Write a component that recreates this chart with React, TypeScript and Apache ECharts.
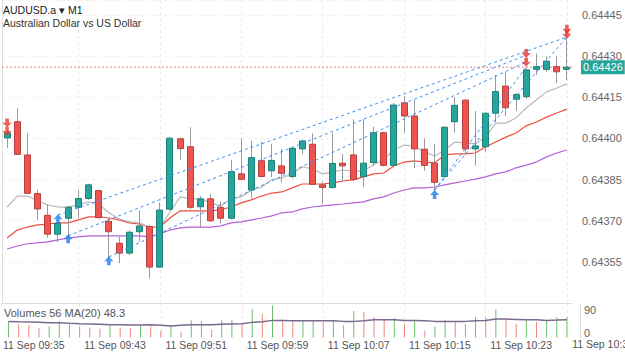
import { useEffect, useRef } from 'react';
import * as echarts from 'echarts';

const times = [
  '11 Sep 09:33', '11 Sep 09:34', '11 Sep 09:35', '11 Sep 09:36', '11 Sep 09:37', '11 Sep 09:38', '11 Sep 09:39', '11 Sep 09:40',
  '11 Sep 09:41', '11 Sep 09:42', '11 Sep 09:43', '11 Sep 09:44', '11 Sep 09:45', '11 Sep 09:46', '11 Sep 09:47', '11 Sep 09:48',
  '11 Sep 09:49', '11 Sep 09:50', '11 Sep 09:51', '11 Sep 09:52', '11 Sep 09:53', '11 Sep 09:54', '11 Sep 09:55', '11 Sep 09:56',
  '11 Sep 09:57', '11 Sep 09:58', '11 Sep 09:59', '11 Sep 10:00', '11 Sep 10:01', '11 Sep 10:02', '11 Sep 10:03', '11 Sep 10:04',
  '11 Sep 10:05', '11 Sep 10:06', '11 Sep 10:07', '11 Sep 10:08', '11 Sep 10:09', '11 Sep 10:10', '11 Sep 10:11', '11 Sep 10:12',
  '11 Sep 10:13', '11 Sep 10:14', '11 Sep 10:15', '11 Sep 10:16', '11 Sep 10:17', '11 Sep 10:18', '11 Sep 10:19', '11 Sep 10:20',
  '11 Sep 10:21', '11 Sep 10:22', '11 Sep 10:23', '11 Sep 10:24', '11 Sep 10:25', '11 Sep 10:26', '11 Sep 10:27', '11 Sep 10:28',
];
const nextTimeLabel = '11 Sep 10:31';

const opens = [
  0.644002, 0.644061, 0.643940, 0.643799, 0.643720, 0.643651, 0.643709, 0.643749, 0.643781, 0.643810,
  0.643698, 0.643618, 0.643582, 0.643660, 0.643679, 0.643531, 0.643742, 0.643999, 0.643970, 0.643751,
  0.643780, 0.643749, 0.643709, 0.643871, 0.643812, 0.643919, 0.643882, 0.643900, 0.643861, 0.643962,
  0.643979, 0.643831, 0.643821, 0.643910, 0.643940, 0.643861, 0.643912, 0.644021, 0.643902, 0.644130,
  0.644082, 0.643961, 0.643910, 0.643861, 0.644061, 0.644140, 0.643962, 0.643970, 0.644092, 0.644191,
  0.644143, 0.644152, 0.644252, 0.644252, 0.644262, 0.644252,
];
const closes = [
  0.644020, 0.643942, 0.643800, 0.643743, 0.643651, 0.643690, 0.643749, 0.643781, 0.643831, 0.643711,
  0.643660, 0.643582, 0.643658, 0.643681, 0.643531, 0.643739, 0.644001, 0.643963, 0.643749, 0.643780,
  0.643700, 0.643709, 0.643879, 0.643851, 0.643930, 0.643861, 0.643920, 0.643873, 0.643964, 0.643991,
  0.643833, 0.643821, 0.643909, 0.643900, 0.643851, 0.643910, 0.644021, 0.643902, 0.644122, 0.644082,
  0.643962, 0.643902, 0.643840, 0.644041, 0.644121, 0.643962, 0.643973, 0.644092, 0.644171, 0.644112,
  0.644160, 0.644250, 0.644262, 0.644282, 0.644243, 0.644260,
];
const lows = [
  0.643965, 0.643940, 0.643798, 0.643703, 0.643638, 0.643622, 0.643642, 0.643709, 0.643776, 0.643709,
  0.643557, 0.643545, 0.643575, 0.643624, 0.643490, 0.643528, 0.643738, 0.643922, 0.643742, 0.643673,
  0.643695, 0.643690, 0.643705, 0.643848, 0.643782, 0.643858, 0.643859, 0.643839, 0.643855, 0.643943,
  0.643830, 0.643761, 0.643818, 0.643843, 0.643846, 0.643822, 0.643900, 0.643898, 0.643900, 0.644021,
  0.643891, 0.643882, 0.643806, 0.643857, 0.644021, 0.643943, 0.643901, 0.643952, 0.644059, 0.644082,
  0.644101, 0.644145, 0.644231, 0.644243, 0.644203, 0.644213,
];
const highs = [
  0.644031, 0.644110, 0.644019, 0.643812, 0.643758, 0.643695, 0.643755, 0.643812, 0.643835, 0.643812,
  0.643711, 0.643642, 0.643665, 0.643739, 0.643683, 0.643766, 0.644005, 0.644003, 0.644041, 0.643790,
  0.643798, 0.643770, 0.643922, 0.644001, 0.643992, 0.643988, 0.643980, 0.643961, 0.643970, 0.643995,
  0.644019, 0.643843, 0.644019, 0.643943, 0.644070, 0.644070, 0.644043, 0.644025, 0.644130, 0.644155,
  0.644140, 0.644001, 0.643979, 0.644045, 0.644150, 0.644142, 0.644100, 0.644095, 0.644231, 0.644243,
  0.644165, 0.644255, 0.644310, 0.644301, 0.644301, 0.644383,
];

const maFast = [
  0.643750, 0.643790, 0.643790, 0.643772, 0.643758, 0.643750, 0.643750, 0.643758, 0.643769, 0.643761,
  0.643729, 0.643707, 0.643696, 0.643692, 0.643677, 0.643674, 0.643732, 0.643787, 0.643780, 0.643780,
  0.643765, 0.643754, 0.643780, 0.643787, 0.643812, 0.643823, 0.643849, 0.643856, 0.643871, 0.643896,
  0.643889, 0.643871, 0.643878, 0.643885, 0.643882, 0.643882, 0.643903, 0.643925, 0.643958, 0.643976,
  0.643973, 0.643951, 0.643936, 0.643958, 0.643987, 0.643984, 0.643980, 0.644005, 0.644056, 0.644056,
  0.644075, 0.644111, 0.644140, 0.644170, 0.644184, 0.644199,
];
const maMid = [
  0.643637, 0.643666, 0.643677, 0.643685, 0.643688, 0.643692, 0.643692, 0.643703, 0.643714, 0.643714,
  0.643710, 0.643703, 0.643692, 0.643688, 0.643677, 0.643677, 0.643710, 0.643736, 0.643736, 0.643736,
  0.643736, 0.643740, 0.643750, 0.643765, 0.643776, 0.643790, 0.643801, 0.643805, 0.643820, 0.643834,
  0.643834, 0.643834, 0.643838, 0.643845, 0.643849, 0.643860, 0.643871, 0.643874, 0.643900, 0.643914,
  0.643918, 0.643914, 0.643911, 0.643940, 0.643944, 0.643944, 0.643947, 0.643969, 0.643987, 0.644005,
  0.644020, 0.644046, 0.644060, 0.644078, 0.644093, 0.644107,
];
const maSlow = [
  0.643597, 0.643608, 0.643616, 0.643619, 0.643623, 0.643630, 0.643637, 0.643641, 0.643645, 0.643645,
  0.643645, 0.643645, 0.643645, 0.643645, 0.643641, 0.643652, 0.643666, 0.643674, 0.643677, 0.643677,
  0.643677, 0.643681, 0.643692, 0.643696, 0.643703, 0.643710, 0.643718, 0.643729, 0.643732, 0.643743,
  0.643750, 0.643754, 0.643758, 0.643761, 0.643765, 0.643769, 0.643780, 0.643787, 0.643801, 0.643812,
  0.643820, 0.643820, 0.643823, 0.643831, 0.643838, 0.643845, 0.643852, 0.643860, 0.643871, 0.643878,
  0.643893, 0.643903, 0.643914, 0.643933, 0.643947, 0.643958,
];

const volumes = [
  44, 36, 34, 26, 30, 44, 36, 30, 27, 24,
  32, 27, 26, 33, 30, 18, 33, 15, 47, 44,
  21, 47, 48, 36, 78, 64, 87, 48, 45, 46,
  47, 42, 47, 33, 72, 69, 55, 48, 53, 37,
  48, 18, 30, 48, 45, 37, 56, 55, 77, 48,
  37, 48, 42, 45, 55, 56,
];
const volumeMA = [
  43.8, 42.7, 41.9, 41.1, 40.0, 40.0, 38.4, 37.3, 36.5, 35.7,
  34.6, 34.6, 33.8, 33.8, 34.6, 33.0, 31.1, 33.0, 34.6, 34.6,
  34.6, 35.7, 36.5, 37.3, 41.1, 42.7, 46.5, 46.5, 45.4, 45.4,
  45.4, 45.4, 45.4, 43.8, 43.8, 45.4, 48.1, 48.1, 48.1, 46.5,
  46.5, 45.4, 43.8, 43.8, 43.8, 43.8, 45.4, 46.5, 50.0, 50.0,
  49.2, 48.1, 48.1, 46.5, 47.3, 48.3,
];

// signal markers: [candle index, price]
const buySignals = [[5, 0.643707], [6, 0.643634], [10, 0.643554], [42, 0.643796]];
const sellSignals = [[0, 0.644056], [0, 0.644025], [51, 0.644310], [51, 0.644278], [55, 0.644398], [55, 0.644380]];
// dashed trend lines: [[startIndex, price], [endIndex, price]]
const trendLines = [
  [[5, 0.643721], [55, 0.644370]],
  [[6, 0.643645], [51, 0.644304]],
  [[10, 0.643568], [51, 0.644279]],
  [[42, 0.643812], [51, 0.644261]],
  [[42, 0.643812], [55, 0.644370]],
];

const FONT = "'Liberation Sans', Arial, Helvetica, sans-serif";
const UP = '#26a69a';
const DOWN = '#ef5350';
const UP_BORDER = '#1d8177';
const DOWN_BORDER = '#b8403d';
const WICK = '#9a9a9a';

const UP_ARROW = 'path://M5,0 L10,5 L7,5 L7,9 L3,9 L3,5 L0,5 Z';
const DOWN_ARROW = 'path://M3,0 L7,0 L7,4 L10,4 L5,9 L0,4 L3,4 Z';

export default function App() {
  const ref = useRef<HTMLDivElement>(null);

  useEffect(() => {
    if (!ref.current) return;
    const chart = echarts.init(ref.current, null, { renderer: 'svg' });

    const candleData = times.map((_, i) => [i, opens[i], closes[i], lows[i], highs[i]]);
    const lastClose = closes[closes.length - 1];
    const volColors = volumes.map((v, i) => (i === 0 || v > volumes[i - 1] ? '#6dbf6d' : '#f08583'));

    const vSplit = {
      show: true,
      alignWithLabel: true,
      interval: (i: number) => i % 8 === 7,
      lineStyle: { color: '#e9e9e9', type: [3, 3], width: 1 },
    };

    const option: any = {
      animation: false,
      backgroundColor: '#ffffff',
      textStyle: { fontFamily: FONT },
      title: [
        {
          text: 'AUDUSD.a ▾ M1',
          left: 3,
          top: 4,
          padding: 0,
          textStyle: { fontSize: 10.5, fontWeight: 'normal', color: '#1a1a1a', fontFamily: FONT },
        },
        {
          text: 'Australian Dollar vs US Dollar',
          left: 3,
          top: 17,
          padding: 0,
          textStyle: { fontSize: 10.5, fontWeight: 'normal', color: '#333333', fontFamily: FONT },
        },
        {
          text: `Volumes ${volumes[volumes.length - 1]} MA(20) ${volumeMA[volumeMA.length - 1]}`,
          left: 4,
          top: 307,
          padding: 0,
          textStyle: { fontSize: 11, fontWeight: 'normal', color: '#555555', fontFamily: FONT },
        },
      ],
      graphic: [
        {
          type: 'text',
          x: 603,
          y: 344,
          silent: true,
          style: {
            text: nextTimeLabel,
            textAlign: 'center',
            textVerticalAlign: 'middle',
            fontSize: 10.5,
            fontFamily: FONT,
            fill: '#555555',
          },
        },
      ],
      grid: [
        { left: 2, right: 53, top: 0, height: 303 },
        { left: 2, right: 53, top: 304, height: 33.5 },
      ],
      xAxis: [
        {
          type: 'category',
          gridIndex: 0,
          data: times,
          boundaryGap: true,
          axisLine: { show: true, lineStyle: { color: '#dcdcdc' } },
          axisTick: { show: false, alignWithLabel: true },
          axisLabel: { show: false },
          splitLine: vSplit,
        },
        {
          type: 'category',
          gridIndex: 1,
          data: times,
          boundaryGap: true,
          axisLine: { show: false },
          axisTick: { show: false, alignWithLabel: true },
          axisLabel: {
            interval: (i: number) => i % 8 === 2,
            margin: 2,
            fontSize: 10.5,
            color: '#555555',
            fontFamily: FONT,
            padding: [0, 0, 0, 10],
          },
          splitLine: vSplit,
        },
        {
          type: 'value',
          gridIndex: 0,
          min: 0,
          max: 1,
          show: false,
        },
      ],
      yAxis: [
        {
          type: 'value',
          gridIndex: 0,
          position: 'right',
          offset: 8,
          min: 0.6434,
          max: 0.644505,
          interval: 0.00015,
          scale: true,
          axisLine: { show: true, lineStyle: { color: '#dcdcdc' } },
          axisTick: { show: false },
          axisLabel: {
            margin: 2,
            fontSize: 11,
            color: '#666666',
            fontFamily: FONT,
            formatter: (v: number) => (v < 0.6435 || v > 0.64446 ? '' : v.toFixed(5)),
          },
          splitLine: { show: true, lineStyle: { color: '#efefef', type: [3, 3] } },
        },
        {
          type: 'value',
          gridIndex: 1,
          position: 'right',
          offset: 8,
          min: 0,
          max: 91,
          interval: 90,
          axisLine: { show: true, lineStyle: { color: '#dcdcdc' } },
          axisTick: { show: false },
          axisLabel: {
            margin: 4,
            fontSize: 11,
            color: '#666666',
            fontFamily: FONT,
            formatter: (v: number) => (v === 90 ? '{a|90}' : v === 0 ? '{b|0}' : ''),
            rich: {
              a: { padding: [11, 0, 0, 0], fontSize: 11, color: '#666666', fontFamily: FONT },
              b: { padding: [0, 0, 10, 0], fontSize: 11, color: '#666666', fontFamily: FONT },
            },
          },
          splitLine: { show: false },
        },
      ],
      series: [
        {
          name: 'MA slow',
          type: 'line',
          xAxisIndex: 0,
          yAxisIndex: 0,
          data: maSlow,
          symbol: 'none',
          lineStyle: { color: '#b262d6', width: 1.2 },
          z: 2,
        },
        {
          name: 'MA mid',
          type: 'line',
          xAxisIndex: 0,
          yAxisIndex: 0,
          data: maMid,
          symbol: 'none',
          lineStyle: { color: '#ef4f3f', width: 1.2 },
          z: 2,
        },
        {
          name: 'MA fast',
          type: 'line',
          xAxisIndex: 0,
          yAxisIndex: 0,
          data: maFast,
          symbol: 'none',
          lineStyle: { color: '#b9b9b9', width: 1.2 },
          z: 2,
        },
        {
          name: 'Last price',
          type: 'line',
          xAxisIndex: 2,
          yAxisIndex: 0,
          data: [[0, lastClose], [1, lastClose]],
          symbol: 'none',
          silent: true,
          lineStyle: { color: '#f3827a', type: [2, 2], width: 1 },
          z: 2,
          endLabel: {
            show: true,
            distance: 9,
            formatter: () => lastClose.toFixed(5),
            backgroundColor: UP,
            color: '#ffffff',
            padding: [2, 2, 1, 2],
            fontSize: 11,
            fontFamily: FONT,
          },
        },
        {
          name: 'AUDUSD.a',
          type: 'custom',
          xAxisIndex: 0,
          yAxisIndex: 0,
          data: candleData,
          encode: { x: 0, y: [1, 2, 3, 4] },
          z: 3,
          renderItem: (_params: any, api: any) => {
            const i = api.value(0);
            const o = api.value(1);
            const c = api.value(2);
            const l = api.value(3);
            const h = api.value(4);
            const pH = api.coord([i, h]);
            const pL = api.coord([i, l]);
            const pO = api.coord([i, o]);
            const pC = api.coord([i, c]);
            const up = c >= o;
            const xc = Math.round(pH[0] - 0.5) + 0.5;
            const top = Math.min(pO[1], pC[1]);
            const bodyH = Math.max(Math.abs(pO[1] - pC[1]), 1.5);
            return {
              type: 'group',
              children: [
                {
                  type: 'line',
                  shape: { x1: xc, y1: pH[1], x2: xc, y2: pL[1] },
                  style: { stroke: WICK, lineWidth: 1 },
                },
                {
                  type: 'rect',
                  shape: { x: xc - 3, y: top, width: 6, height: bodyH },
                  style: {
                    fill: up ? UP : DOWN,
                    stroke: up ? UP_BORDER : DOWN_BORDER,
                    lineWidth: 1,
                  },
                },
              ],
            };
          },
        },
        ...trendLines.map((seg, k) => ({
          name: 'trend ' + k,
          type: 'line',
          xAxisIndex: 0,
          yAxisIndex: 0,
          data: seg,
          symbol: 'none',
          lineStyle: { color: '#3f8ff2', type: [3, 3], width: 1 },
          z: 4,
        })),
        {
          name: 'buy',
          type: 'scatter',
          xAxisIndex: 0,
          yAxisIndex: 0,
          data: buySignals,
          symbol: UP_ARROW,
          symbolSize: [9, 9],
          itemStyle: { color: '#1d7ff2' },
          z: 5,
        },
        {
          name: 'sell',
          type: 'scatter',
          xAxisIndex: 0,
          yAxisIndex: 0,
          data: sellSignals,
          symbol: DOWN_ARROW,
          symbolSize: [9, 9],
          itemStyle: { color: '#e8382f' },
          z: 5,
        },
        {
          name: 'Volumes',
          type: 'bar',
          xAxisIndex: 1,
          yAxisIndex: 1,
          data: volumes.map((v, i) => ({ value: v, itemStyle: { color: volColors[i] } })),
          barWidth: 1,
          z: 2,
        },
        {
          name: 'Volume MA(20)',
          type: 'line',
          xAxisIndex: 1,
          yAxisIndex: 1,
          data: volumeMA,
          symbol: 'none',
          lineStyle: { color: '#7b6a8f', width: 1.5 },
          z: 3,
        },
      ],
    };

    chart.setOption(option);
    return () => chart.dispose();
  }, []);

  return (
    <div
      ref={ref}
      style={{ position: 'fixed', left: 0, top: 0, width: 625, height: 352, background: '#fff' }}
    />
  );
}
